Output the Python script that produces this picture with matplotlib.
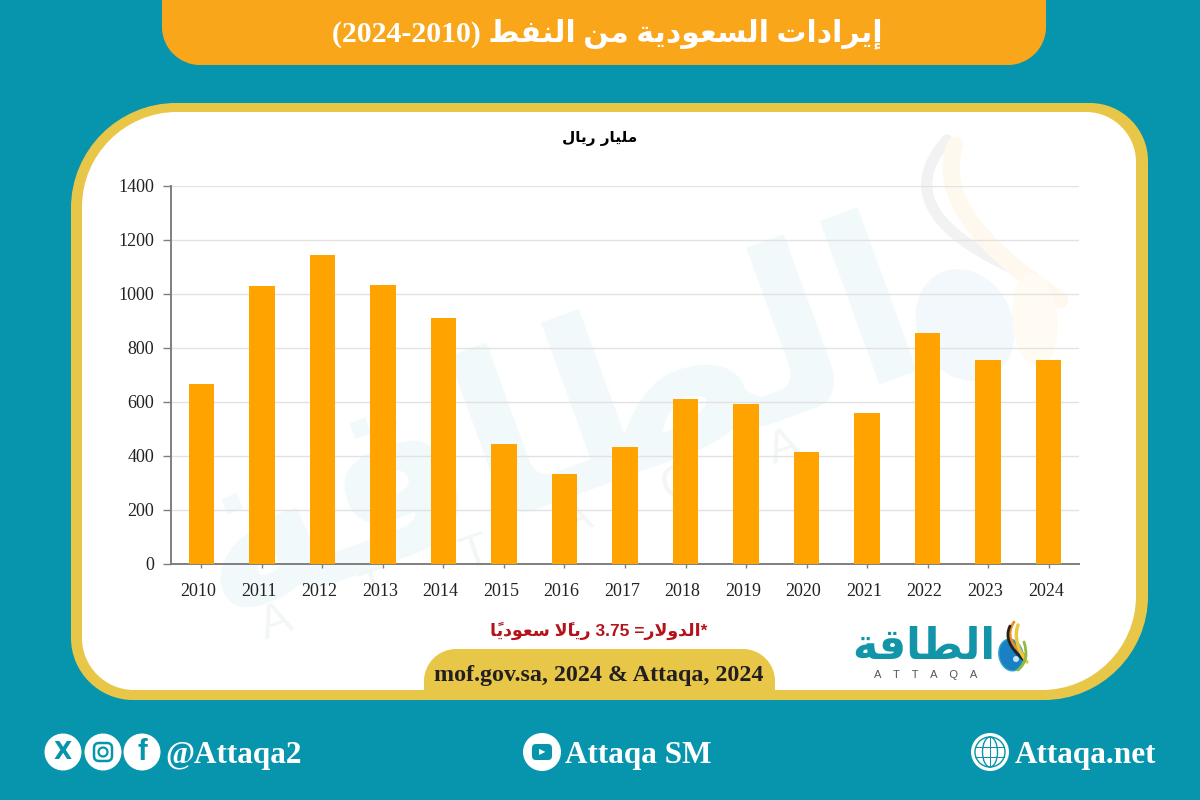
import matplotlib
matplotlib.use("Agg")
import matplotlib.pyplot as plt
from matplotlib.patches import Circle, Ellipse, PathPatch, FancyBboxPatch, Rectangle
from matplotlib.path import Path
from matplotlib.transforms import ScaledTranslation

years = [2010, 2011, 2012, 2013, 2014, 2015, 2016, 2017, 2018, 2019, 2020, 2021, 2022, 2023, 2024]
oil_revenue = [667, 1031, 1144, 1034, 912, 444, 333, 434, 611, 592, 413, 561, 854, 754, 757]
y_ticks = [0, 200, 400, 600, 800, 1000, 1200, 1400]

TEAL = "#0795AD"
YELLOW = "#E8C748"
ORANGE = "#FAA61A"
BAR = "#FFA300"

# isolated, final, initial, medial
FORMS = {
    "ا": (0xFE8D, 0xFE8E), "إ": (0xFE87, 0xFE88), "د": (0xFEA9, 0xFEAA), "ر": (0xFEAD, 0xFEAE),
    "و": (0xFEED, 0xFEEE), "ة": (0xFE93, 0xFE94), "ي": (0xFEF1, 0xFEF2, 0xFEF3, 0xFEF4),
    "ت": (0xFE95, 0xFE96, 0xFE97, 0xFE98), "ل": (0xFEDD, 0xFEDE, 0xFEDF, 0xFEE0),
    "س": (0xFEB1, 0xFEB2, 0xFEB3, 0xFEB4), "ع": (0xFEC9, 0xFECA, 0xFECB, 0xFECC),
    "م": (0xFEE1, 0xFEE2, 0xFEE3, 0xFEE4), "ن": (0xFEE5, 0xFEE6, 0xFEE7, 0xFEE8),
    "ف": (0xFED1, 0xFED2, 0xFED3, 0xFED4), "ط": (0xFEC1, 0xFEC2, 0xFEC3, 0xFEC4),
    "ق": (0xFED5, 0xFED6, 0xFED7, 0xFED8),
}
MARKS = "\u064b\u064f"


def ar(text):
    # matplotlib does no Arabic shaping, so pick the joined forms and reverse by hand
    clusters = []
    for ch in text:
        if ch in MARKS and clusters:
            clusters[-1][1] += ch
        else:
            clusters.append([ch, ""])
    out = []
    i = 0
    while i < len(clusters):
        ch, marks = clusters[i]
        if ch not in FORMS:
            out.append(ch + marks)
            i += 1
            continue
        prev = clusters[i - 1][0] if i > 0 else " "
        joined = prev in FORMS and len(FORMS[prev]) == 4
        nxt = clusters[i + 1][0] if i + 1 < len(clusters) else " "
        if ch == "ل" and nxt == "ا":
            # lam-alef ligature
            lig = 0xFEFC if joined else 0xFEFB
            out.append(chr(lig) + marks + clusters[i + 1][1])
            i += 2
            continue
        forms = FORMS[ch]
        if len(forms) == 2:
            g = forms[1] if joined else forms[0]
        elif joined and nxt in FORMS:
            g = forms[3]
        elif joined:
            g = forms[1]
        elif nxt in FORMS:
            g = forms[2]
        else:
            g = forms[0]
        out.append(chr(g) + marks)
        i += 1
    return "".join(reversed(out))


def rounded(x0, y0, x1, y1, tl, tr, br, bl):
    # rounded box with its own radius per corner, y pointing down
    k = 0.45
    verts = [(x0 + tl, y0), (x1 - tr, y0),
             (x1 - tr * k, y0), (x1, y0 + tr * k), (x1, y0 + tr),
             (x1, y1 - br),
             (x1, y1 - br * k), (x1 - br * k, y1), (x1 - br, y1),
             (x0 + bl, y1),
             (x0 + bl * k, y1), (x0, y1 - bl * k), (x0, y1 - bl),
             (x0, y0 + tl),
             (x0, y0 + tl * k), (x0 + tl * k, y0), (x0 + tl, y0),
             (x0 + tl, y0)]
    codes = [Path.MOVETO, Path.LINETO,
             Path.CURVE4, Path.CURVE4, Path.CURVE4,
             Path.LINETO,
             Path.CURVE4, Path.CURVE4, Path.CURVE4,
             Path.LINETO,
             Path.CURVE4, Path.CURVE4, Path.CURVE4,
             Path.LINETO,
             Path.CURVE4, Path.CURVE4, Path.CURVE4,
             Path.CLOSEPOLY]
    return Path(verts, codes)


def stroke(ax, pts, color, lw, alpha=1.0, zorder=3):
    codes = [Path.MOVETO] + [Path.CURVE3] * (len(pts) - 1)
    ax.add_patch(PathPatch(Path(pts, codes), fc="none", ec=color, lw=lw, alpha=alpha,
                           capstyle="round", zorder=zorder))


fig = plt.figure(figsize=(12, 8), dpi=100, facecolor=TEAL)

# page layer, one unit = one pixel
bg = fig.add_axes([0, 0, 1, 1], zorder=0)
bg.set_xlim(0, 1200)
bg.set_ylim(800, 0)
bg.axis("off")

bg.add_patch(PathPatch(rounded(162, -60, 1046, 65, 10, 10, 38, 38), fc=ORANGE, ec="none"))
bg.add_patch(PathPatch(rounded(71, 103, 1148, 700, 105, 58, 104, 62), fc=YELLOW, ec="none"))
bg.add_patch(PathPatch(rounded(82, 112, 1136, 690, 95, 50, 94, 52), fc="white", ec="none"))

# watermark behind the chart
bg.text(555, 430, ar("الطاقة"), family="DejaVu Sans", weight="bold", fontsize=165, color="#F2F9FB",
        rotation=20, ha="center", va="center", zorder=1)
bg.text(530, 535, "A      T      T      A      Q      A", family="Liberation Sans",
        fontsize=34, color="#F3F6F7", rotation=19, ha="center", va="center", zorder=1)
stroke(bg, [(947, 140), (880, 215), (1033, 277)], "#F2F2F2", 8, zorder=1)
stroke(bg, [(955, 145), (930, 215), (1060, 300)], "#FEF8EE", 12, zorder=1)
bg.add_patch(Ellipse((965, 325), 95, 115, angle=-25, fc="#F2F8FB", ec="none", zorder=1))
bg.add_patch(Ellipse((1035, 320), 45, 95, angle=-5, fc="#FFFBF2", ec="none", zorder=1))

# header and labels
bg.text(607, 34, "(2024-2010) " + ar("إيرادات السعودية من النفط"),
        family=["Liberation Serif", "DejaVu Sans"], weight="bold", fontsize=21.5, color="white",
        ha="center", va="center", zorder=3)
bg.text(600, 138, ar("مليار ريال"), family="DejaVu Sans", weight="bold", fontsize=11, color="black",
        ha="center", va="center", zorder=3)
bg.text(599, 631, ar("ريالًا سعودياً") + " 3.75 =" + ar("الدولار") + "*",
        family=["Liberation Sans", "DejaVu Sans"], weight="bold", fontsize=12.5, color="#B5121B",
        ha="center", va="center", zorder=3)

# source tab
bg.add_patch(PathPatch(rounded(424, 649, 775, 692, 32, 32, 0, 0), fc=YELLOW, ec="none", zorder=2))
bg.text(599, 675, "mof.gov.sa, 2024 & Attaqa, 2024", family="Liberation Serif", weight="bold",
        fontsize=17.3, color="#231F20", ha="center", va="center", zorder=3)

# logo
bg.text(924, 647, ar("الطاقة"), family="DejaVu Sans", weight="bold", fontsize=31, color="#1295A8",
        ha="center", va="center", zorder=3)
bg.text(926, 675, "A    T    T    A    Q    A", family="Liberation Sans", fontsize=8, color="#555555",
        ha="center", va="center", zorder=3)
bg.add_patch(Ellipse((1011, 655), 24, 32, angle=-12, fc="#1B7FC4", ec="#2FA6C8", lw=1, zorder=3))
bg.add_patch(Circle((1016, 659), 3, fc="#BFE6F2", ec="none", zorder=4))
stroke(bg, [(1014, 622), (1002, 640), (1026, 656)], "#F28C1E", 2, zorder=4)
stroke(bg, [(1010, 626), (1002, 642), (1024, 660)], "#222222", 2, zorder=4)
stroke(bg, [(1018, 625), (1012, 642), (1027, 662)], "#E9C83B", 2.5, zorder=4)
stroke(bg, [(1024, 642), (1030, 660), (1018, 670)], "#8DBB3F", 2, zorder=4)

# footer icons
icon_y = 752
for cx in [63, 103, 142]:
    bg.add_patch(Circle((cx, icon_y), 18.5, fc="white", ec="none", zorder=3))
bg.text(63, icon_y, "X", family="DejaVu Sans", weight="bold", fontsize=17, color=TEAL,
        ha="center", va="center", zorder=4)
bg.add_patch(FancyBboxPatch((94, 743), 18, 18, boxstyle="round,pad=0,rounding_size=5", fc="none",
                            ec=TEAL, lw=1.8, zorder=4))
bg.add_patch(Circle((103, 752), 4.5, fc="none", ec=TEAL, lw=1.6, zorder=4))
bg.text(142, icon_y, "f", family="Liberation Sans", weight="bold", fontsize=21, color=TEAL,
        ha="center", va="center", zorder=4)
bg.add_patch(Circle((542, icon_y), 19, fc="white", ec="none", zorder=3))
bg.add_patch(FancyBboxPatch((532, 744), 20, 16, boxstyle="round,pad=0,rounding_size=4", fc=TEAL,
                            ec="none", zorder=4))
bg.text(542.5, icon_y, "\u25b6", family="DejaVu Sans", fontsize=6, color="white",
        ha="center", va="center", zorder=5)
bg.add_patch(Circle((990, icon_y), 19, fc="white", ec="none", zorder=3))
bg.add_patch(Circle((990, icon_y), 15, fc="none", ec=TEAL, lw=1, zorder=4))
bg.add_patch(Ellipse((990, icon_y), 15, 30, fc="none", ec=TEAL, lw=1, zorder=4))
bg.add_patch(Rectangle((975, icon_y - 5.5), 30, 1, fc=TEAL, ec="none", zorder=4))
bg.add_patch(Rectangle((975, icon_y + 4.5), 30, 1, fc=TEAL, ec="none", zorder=4))
bg.add_patch(Rectangle((989.5, icon_y - 15), 1, 30, fc=TEAL, ec="none", zorder=4))

for x, label in [(165, "@Attaqa2"), (565, "Attaqa SM"), (1015, "Attaqa.net")]:
    bg.text(x, 755, label, family="Liberation Serif", weight="bold", fontsize=22.5, color="white",
            ha="left", va="center", zorder=3)

# chart, placed in pixels: x 171-1079, y 186-564
ax = fig.add_axes([171 / 1200, 1 - 564 / 800, 908 / 1200, 378 / 800], zorder=1)
ax.patch.set_visible(False)
ax.bar(range(len(years)), oil_revenue, width=0.42, color=BAR, zorder=3)
ax.set_xlim(-0.5, len(years) - 0.5)
ax.set_ylim(0, 1400)
ax.set_yticks(y_ticks)
ax.set_xticks(range(len(years)))
ax.set_xticklabels(years)
ax.grid(axis="y", color="#E2E2E2", lw=1, zorder=0)
ax.set_axisbelow(True)
for side in ["top", "right"]:
    ax.spines[side].set_visible(False)
for side in ["left", "bottom"]:
    ax.spines[side].set_color("#7F7F7F")
    ax.spines[side].set_linewidth(1.4)
ax.tick_params(axis="y", length=6, width=1, color="#7F7F7F", pad=6, labelsize=13, labelcolor="#222222")
ax.tick_params(axis="x", length=3, width=1, color="#7F7F7F", pad=11, labelsize=13, labelcolor="#222222")
for label in ax.get_xticklabels() + ax.get_yticklabels():
    label.set_fontfamily("Liberation Serif")
shift = ScaledTranslation(-3 / 100, 0, fig.dpi_scale_trans)
for label in ax.get_xticklabels():
    label.set_transform(label.get_transform() + shift)

fig.savefig("out.png", dpi=100, facecolor=TEAL)
